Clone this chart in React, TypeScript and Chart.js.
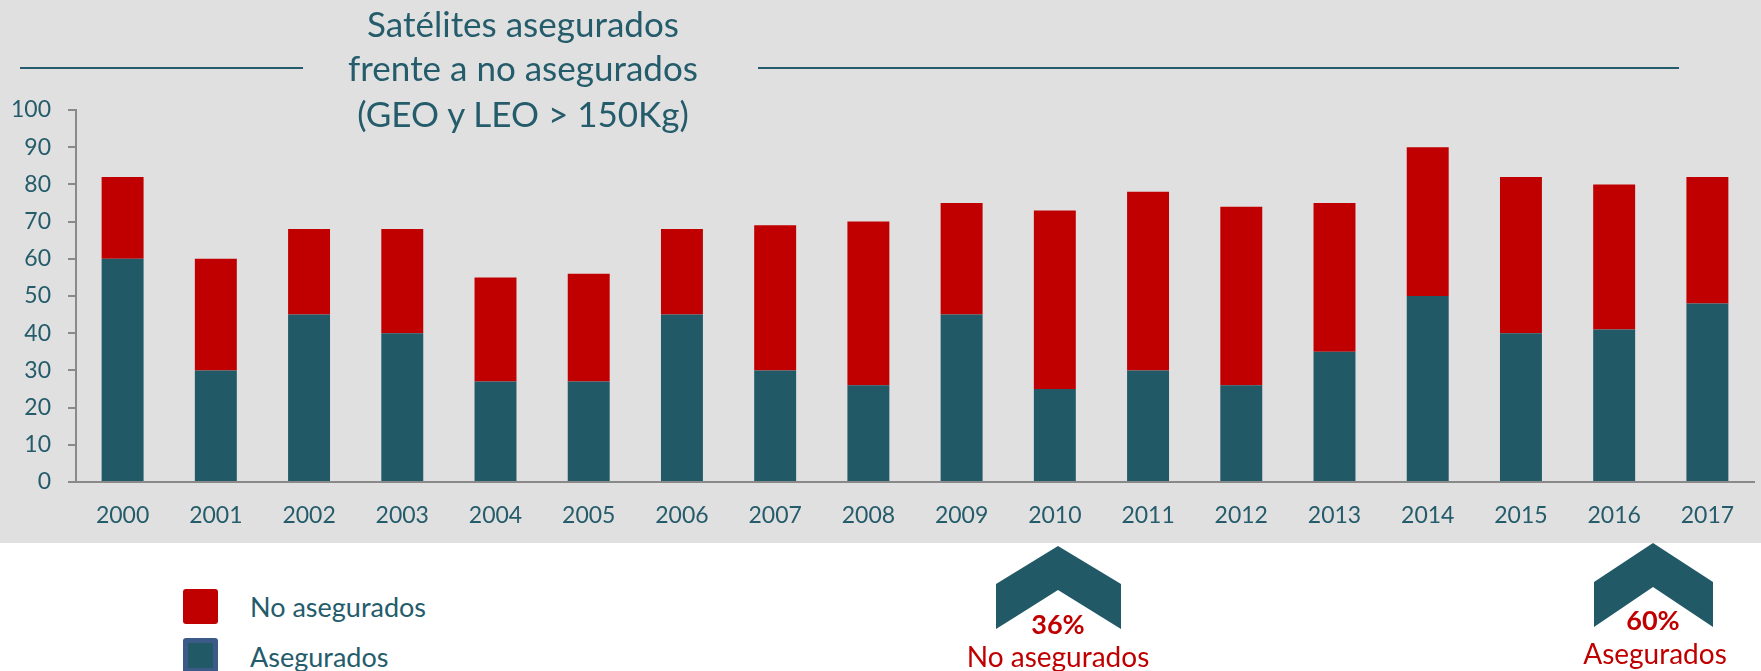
import React, { useEffect, useRef } from "react";
import { Chart, registerables } from "chart.js";

Chart.register(...registerables);

const years = ["2000","2001","2002","2003","2004","2005","2006","2007","2008","2009","2010","2011","2012","2013","2014","2015","2016","2017"];
const totals = [82, 60, 68, 68, 55, 56, 68, 69, 70, 75, 73, 78, 74, 75, 90, 82, 80, 82];
const asegurados = [60, 30, 45, 40, 27, 27, 45, 30, 26, 45, 25, 30, 26, 35, 50, 40, 41, 48];
const noAsegurados = totals.map((t, i) => t - asegurados[i]);
const yTicksMax = 100;
const yStep = 10;

const TEAL = "#215967";
const TEXT = "#255c6b";
const RED = "#C00000";
const GRAY_BG = "#e0e0e0";
const AXIS = "#898989";
const FONT = "Lato, 'Open Sans', sans-serif";

function Label(props: { x: number; y: number; text: string; size: number; color: string; bold?: boolean; align?: "center" | "left" }) {
  const { x, y, text, size, color, bold, align = "center" } = props;
  return (
    <div
      style={{
        position: "absolute",
        left: x,
        top: y,
        transform: align === "center" ? "translate(-50%, -50%)" : "translate(0, -50%)",
        fontFamily: FONT,
        fontSize: size,
        fontWeight: bold ? 700 : 400,
        color,
        whiteSpace: "nowrap",
        lineHeight: 1,
      }}
    >
      {text}
    </div>
  );
}

export default function App() {
  const canvasRef = useRef<HTMLCanvasElement | null>(null);

  useEffect(() => {
    document.body.style.margin = "0";
    const ctx = canvasRef.current!.getContext("2d")!;
    const chart = new Chart(ctx, {
      type: "bar",
      data: {
        labels: years,
        datasets: [
          {
            label: "Asegurados",
            data: asegurados,
            backgroundColor: TEAL,
            barPercentage: 0.45,
            categoryPercentage: 1,
          },
          {
            label: "No asegurados",
            data: noAsegurados,
            backgroundColor: RED,
            barPercentage: 0.45,
            categoryPercentage: 1,
          },
        ],
      },
      options: {
        animation: false,
        responsive: false,
        maintainAspectRatio: false,
        layout: { padding: { top: 110, right: 7, left: 0, bottom: 0 } },
        plugins: { legend: { display: false }, tooltip: { enabled: false }, title: { display: false } },
        scales: {
          x: {
            stacked: true,
            grid: { display: false, drawTicks: false },
            border: { color: AXIS, width: 2 },
            ticks: { color: TEXT, font: { family: FONT, size: 23 }, padding: 20, maxRotation: 0 },
            afterFit: (s: any) => { s.height = 61; },
          },
          y: {
            stacked: true,
            min: 0,
            max: yTicksMax,
            grid: { drawOnChartArea: false, drawTicks: true, tickLength: 8, color: AXIS, lineWidth: 2 },
            border: { color: AXIS, width: 2 },
            ticks: { stepSize: yStep, color: TEXT, font: { family: FONT, size: 23 }, padding: 17 },
            afterFit: (s: any) => { s.width = 76; },
          },
        },
      },
    });
    return () => chart.destroy();
  }, []);

  return (
    <div style={{ position: "fixed", left: 0, top: 0, width: 1761, height: 671, background: "#ffffff", overflow: "hidden" }}>
      <div style={{ position: "absolute", left: 0, top: 0, width: 1761, height: 543, background: GRAY_BG }} />
      <canvas ref={canvasRef} width={1761} height={543} style={{ position: "absolute", left: 0, top: 0, width: 1761, height: 543 }} />
      {/* title */}
      <Label x={523} y={23} text="Satélites asegurados" size={35} color={TEXT} />
      <Label x={523} y={67} text="frente a no asegurados" size={35} color={TEXT} />
      <Label x={523} y={113} text="(GEO y LEO > 150Kg)" size={35} color={TEXT} />
      <div style={{ position: "absolute", left: 20, top: 67, width: 283, height: 2, background: TEXT }} />
      <div style={{ position: "absolute", left: 758, top: 67, width: 921, height: 2, background: TEXT }} />
      {/* legend */}
      <div style={{ position: "absolute", left: 183, top: 589, width: 35, height: 35, background: RED, borderRadius: 3 }} />
      <div style={{ position: "absolute", left: 183, top: 638, width: 25, height: 25, background: TEAL, border: "5px solid #3b5a88", borderRadius: 3 }} />
      <Label x={250} y={606} text="No asegurados" size={27} color={TEXT} align="left" />
      <Label x={250} y={656} text="Asegurados" size={27} color={TEXT} align="left" />
      {/* chevrons */}
      <svg width={1761} height={671} style={{ position: "absolute", left: 0, top: 0 }}>
        <polygon points="996,584 1058,546 1121,584 1121,629 1058,590 996,629" fill={TEAL} />
        <polygon points="1594,582 1653,543 1713,582 1713,627 1653,587 1594,627" fill={TEAL} />
      </svg>
      <Label x={1058} y={623} text="36%" size={27} color={RED} bold />
      <Label x={1058} y={656} text="No asegurados" size={28} color={RED} />
      <Label x={1653} y={619} text="60%" size={27} color={RED} bold />
      <Label x={1655} y={653} text="Asegurados" size={28} color={RED} />
    </div>
  );
}
